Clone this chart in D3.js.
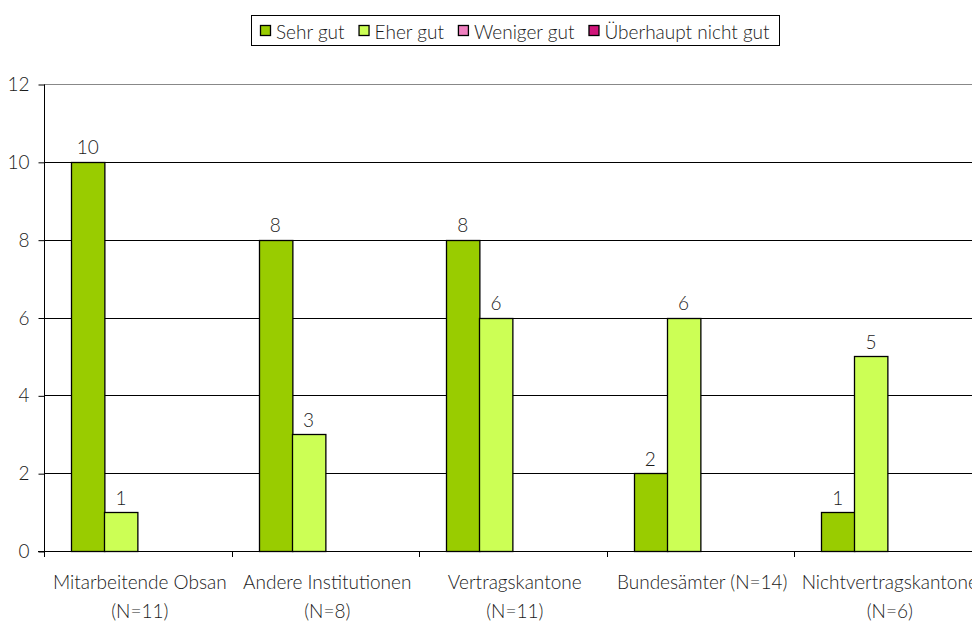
<!DOCTYPE html>
<html><head><meta charset="utf-8">
<script src="https://cdn.jsdelivr.net/npm/d3@7"></script>
<style>body{margin:0;background:#fff}svg{display:block}text{font-family:Lato,"Open Sans",sans-serif;font-weight:300;fill:#1a1a1a}</style>
</head><body><svg id="c" width="972" height="622"></svg>
<script>
const categories = [["Mitarbeitende Obsan","(N=11)"],["Andere Institutionen","(N=8)"],["Vertragskantone","(N=11)"],["Bundesämter (N=14)"],["Nichtvertragskantone","(N=6)"]];
const series = ["Sehr gut","Eher gut","Weniger gut","Überhaupt nicht gut"];
const colors = ["#99cc00","#ccff55","#f080c0","#d0157a"];
const sehrGut = [10,8,8,2,1];
const eherGut = [1,3,6,6,5];
const wenigerGut = [0,0,0,0,0];
const ueberhauptNicht = [0,0,0,0,0];
const yTicks = [0,2,4,6,8,10,12];
const values = [sehrGut, eherGut, wenigerGut, ueberhauptNicht];

(function(){
const svg = d3.select("#c");
const FS = "19px";
const mLeft = 44, bandW = 187.5, mTop = 84, mBottom = 551;
const x = d3.scaleBand().domain(d3.range(categories.length)).range([mLeft, mLeft + bandW*categories.length]);
const y = d3.scaleLinear().domain([0,12]).range([mBottom, mTop]);
const inner = d3.scaleBand().domain(d3.range(series.length)).range([27, bandW-27]);

// gridlines
svg.append("g").selectAll("line").data(yTicks.filter(d=>d>0)).join("line")
  .attr("x1", mLeft).attr("x2", 972).attr("y1", d=>Math.round(y(d))+0.5).attr("y2", d=>Math.round(y(d))+0.5)
  .attr("stroke", d=> d===12 ? "#888" : "#000").attr("stroke-width",1);

// bars
const bars = svg.append("g");
values.forEach((vals, si) => {
  bars.selectAll(null).data(vals.map((v,i)=>({v,i})).filter(d=>d.v>0)).join("rect")
    .attr("x", d=>Math.round(x(d.i)+inner(si))+0.5)
    .attr("y", d=>Math.round(y(d.v))+0.5)
    .attr("width", inner.bandwidth())
    .attr("height", d=>Math.round(y(0))-Math.round(y(d.v)))
    .attr("fill", colors[si]).attr("stroke","#000").attr("stroke-width",1.3);
});

// data labels
values.forEach((vals, si) => {
  vals.forEach((v,i) => {
    if (v<=0) return;
    const cx = x(i)+inner(si)+inner.bandwidth()/2, cy = y(v)-15;
    const g = svg.append("g");
    const t = g.append("text").attr("x",cx).attr("y",cy).attr("text-anchor","middle").attr("dominant-baseline","central").style("font-size",FS).text(v);
    const bb = t.node().getBBox();
    g.insert("rect","text").attr("x",bb.x-4).attr("y",bb.y).attr("width",bb.width+8).attr("height",bb.height).attr("fill","#fff");
  });
});

// y axis
const yAxis = d3.axisLeft(y).tickValues(yTicks).tickSize(6).tickPadding(9);
const gy = svg.append("g").attr("transform",`translate(${mLeft+0.5},0.5)`).call(yAxis);
gy.select(".domain").attr("stroke","#000").attr("d", `M0,${y(12)}V${y(0)}`);
gy.selectAll("line").attr("stroke","#000");
gy.selectAll("text").style("font-size",FS).attr("font-family",null).attr("fill","#1a1a1a");

// x axis
svg.append("line").attr("x1",mLeft-6).attr("x2",972).attr("y1",mBottom+0.5).attr("y2",mBottom+0.5).attr("stroke","#000");
svg.append("g").selectAll("line").data(d3.range(categories.length+1)).join("line")
  .attr("x1", d=>Math.round(mLeft+d*bandW)+0.5).attr("x2", d=>Math.round(mLeft+d*bandW)+0.5).attr("y1",mBottom).attr("y2",mBottom+6).attr("stroke","#000");

// category labels
categories.forEach((lines,i) => {
  const t = svg.append("text").attr("x", x(i)+bandW/2+2).attr("y", 589).attr("text-anchor","middle").style("font-size",FS);
  lines.forEach((l,k) => t.append("tspan").attr("x", x(i)+bandW/2+2).attr("dy", k===0?0:29).text(l));
});

// legend (laid out from text widths)
const lg = svg.append("g");
const box = lg.append("rect").attr("fill","#fff").attr("stroke","#000");
let cxp = 0;
const items = [];
series.forEach((s,i) => {
  const it = lg.append("g");
  it.append("rect").attr("x",0.5).attr("y",-4.5).attr("width",10).attr("height",10).attr("fill",colors[i]).attr("stroke","#000").attr("stroke-width",1.3);
  const t = it.append("text").attr("x",16).attr("y",1).attr("dominant-baseline","central").style("font-size",FS).text(s);
  const w = 16 + t.node().getComputedTextLength();
  items.push({it, x: cxp});
  cxp += w + 14;
});
const totalW = cxp - 14;
const pad = 9;
const boxW = totalW + 2*pad, cxCenter = 514.5;
const bx = Math.round(cxCenter - boxW/2);
box.attr("x", bx+0.5).attr("y",15.5).attr("width",Math.round(boxW)).attr("height",30);
items.forEach(d => d.it.attr("transform", `translate(${bx+pad+d.x},30)`));
})();
</script></body></html>
